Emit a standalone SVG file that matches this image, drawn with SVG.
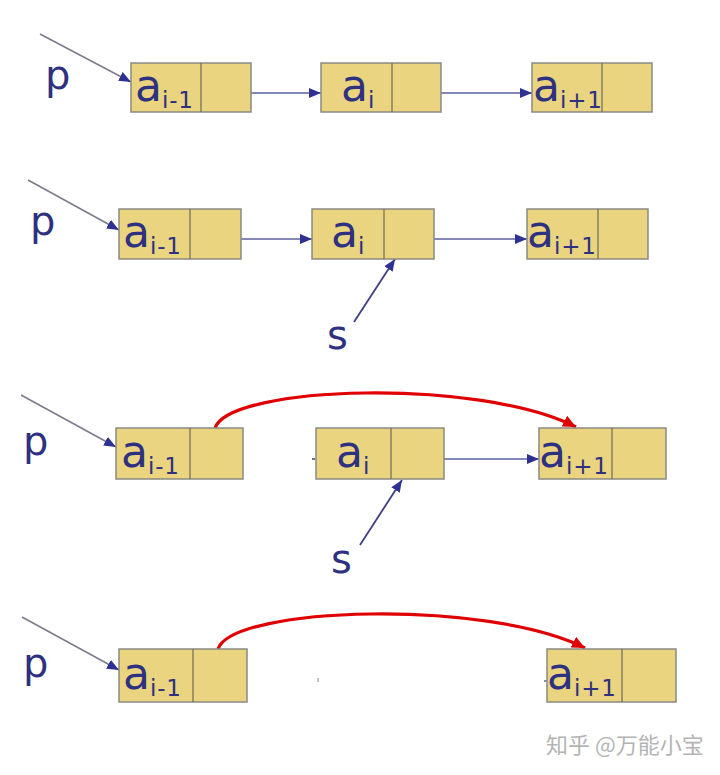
<svg xmlns="http://www.w3.org/2000/svg" width="720" height="775" viewBox="0 0 720 775">
<style>
.cell{fill:#ead47f;stroke:#8a8a82;stroke-width:1.5}
.div{stroke:#6e6a5a;stroke-width:1.2}
.lbl{font-family:"DejaVu Sans",Verdana,sans-serif;font-size:44px;fill:#2e3180}
.sub{font-size:23px;letter-spacing:0.8px}
.ptr{font-family:"DejaVu Sans",Verdana,sans-serif;font-size:40px;fill:#2e3180}
.pline{stroke:#7c7c8c;stroke-width:1.6;fill:none}
.link{stroke:#5c609e;stroke-width:1.6;fill:none}
.sline{stroke:#3c3f86;stroke-width:1.8;fill:none}
.red{stroke:#e00000;stroke-width:3.2;fill:none}
.wm{font-family:"Noto Sans CJK SC","DejaVu Sans",sans-serif;font-size:22px;fill:#b4b4b4}
</style>
<defs>
<marker id="ah" markerUnits="userSpaceOnUse" markerWidth="14" markerHeight="12" refX="12" refY="5" orient="auto">
<path d="M0,0 L12,5 L0,10 z" fill="#2e3192"/>
</marker>
<marker id="ahr" markerUnits="userSpaceOnUse" markerWidth="16" markerHeight="14" refX="13" refY="6" orient="auto">
<path d="M0,0 L13,6 L0,12 z" fill="#e00000"/>
</marker>
</defs>
<rect width="720" height="775" fill="#ffffff"/>

<g id="connectors">
<!-- row 1 -->
<line class="pline" x1="40" y1="34" x2="131" y2="82" marker-end="url(#ah)"/>
<line class="link" x1="251" y1="93" x2="321" y2="93" marker-end="url(#ah)"/>
<line class="link" x1="441" y1="93" x2="532" y2="93" marker-end="url(#ah)"/>
<!-- row 2 -->
<line class="pline" x1="28" y1="180" x2="119" y2="230" marker-end="url(#ah)"/>
<line class="link" x1="241" y1="239" x2="312" y2="239" marker-end="url(#ah)"/>
<line class="link" x1="434" y1="239" x2="527" y2="239" marker-end="url(#ah)"/>
<line class="sline" x1="354" y1="322" x2="395" y2="259" marker-end="url(#ah)"/>
<!-- row 3 -->
<line class="pline" x1="21" y1="395" x2="116" y2="447" marker-end="url(#ah)"/>
<line class="link" x1="444" y1="459" x2="539" y2="459" marker-end="url(#ah)"/>
<line class="sline" x1="360" y1="545" x2="402" y2="480" marker-end="url(#ah)"/>
<path class="red" d="M215,428 C230,385 480,378 576,427" marker-end="url(#ahr)"/>
<line stroke="#3c3f86" stroke-width="1.5" x1="312" y1="459" x2="315" y2="459"/>
<!-- row 4 -->
<line class="pline" x1="22" y1="617" x2="119" y2="670" marker-end="url(#ah)"/>
<path class="red" d="M218,649 C233,606 488,599 585,648" marker-end="url(#ahr)"/>
<line stroke="#9a9aa6" stroke-width="1.2" x1="318" y1="678" x2="318" y2="682"/>
<line stroke="#3c3f86" stroke-width="1.2" x1="544" y1="681" x2="547" y2="681"/>
</g>

<!-- row 1 -->
<text class="ptr" x="45" y="89">p</text>
<g id="r1n1"><rect class="cell" x="131" y="63" width="120" height="49"/><line class="div" x1="201" y1="63" x2="201" y2="112"/><text class="lbl" x="135" y="101">a<tspan class="sub" dy="7">i-1</tspan></text></g>
<g id="r1n2"><rect class="cell" x="321" y="63" width="120" height="49"/><line class="div" x1="392" y1="63" x2="392" y2="112"/><text class="lbl" x="341" y="101">a<tspan class="sub" dy="7">i</tspan></text></g>
<g id="r1n3"><rect class="cell" x="532" y="63" width="120" height="49"/><line class="div" x1="602" y1="63" x2="602" y2="112"/><text class="lbl" x="533" y="101">a<tspan class="sub" dy="7">i+1</tspan></text></g>

<!-- row 2 -->
<text class="ptr" x="30" y="235">p</text>
<g id="r2n1"><rect class="cell" x="119" y="209" width="122" height="50"/><line class="div" x1="190" y1="209" x2="190" y2="259"/><text class="lbl" x="123" y="247">a<tspan class="sub" dy="7">i-1</tspan></text></g>
<g id="r2n2"><rect class="cell" x="312" y="209" width="122" height="50"/><line class="div" x1="384" y1="209" x2="384" y2="259"/><text class="lbl" x="331" y="247">a<tspan class="sub" dy="7">i</tspan></text></g>
<g id="r2n3"><rect class="cell" x="527" y="209" width="121" height="50"/><line class="div" x1="598" y1="209" x2="598" y2="259"/><text class="lbl" x="527" y="247">a<tspan class="sub" dy="7">i+1</tspan></text></g>
<text class="ptr" x="327" y="349">s</text>

<!-- row 3 -->
<text class="ptr" x="23" y="455">p</text>
<g id="r3n1"><rect class="cell" x="116" y="428" width="127" height="51"/><line class="div" x1="190" y1="428" x2="190" y2="479"/><text class="lbl" x="121" y="467">a<tspan class="sub" dy="7">i-1</tspan></text></g>
<g id="r3n2"><rect class="cell" x="316" y="428" width="128" height="51"/><line class="div" x1="391" y1="428" x2="391" y2="479"/><text class="lbl" x="336" y="467">a<tspan class="sub" dy="7">i</tspan></text></g>
<g id="r3n3"><rect class="cell" x="539" y="428" width="127" height="51"/><line class="div" x1="612" y1="428" x2="612" y2="479"/><text class="lbl" x="539" y="467">a<tspan class="sub" dy="7">i+1</tspan></text></g>
<text class="ptr" x="331" y="573">s</text>

<!-- row 4 -->
<text class="ptr" x="23" y="677">p</text>
<g id="r4n1"><rect class="cell" x="119" y="649" width="128" height="53"/><line class="div" x1="193" y1="649" x2="193" y2="702"/><text class="lbl" x="123" y="689">a<tspan class="sub" dy="7">i-1</tspan></text></g>
<g id="r4n3"><rect class="cell" x="547" y="649" width="129" height="53"/><line class="div" x1="622" y1="649" x2="622" y2="702"/><text class="lbl" x="547" y="689">a<tspan class="sub" dy="7">i+1</tspan></text></g>

<text class="wm" x="546" y="753">知乎 @万能小宝</text>
</svg>
